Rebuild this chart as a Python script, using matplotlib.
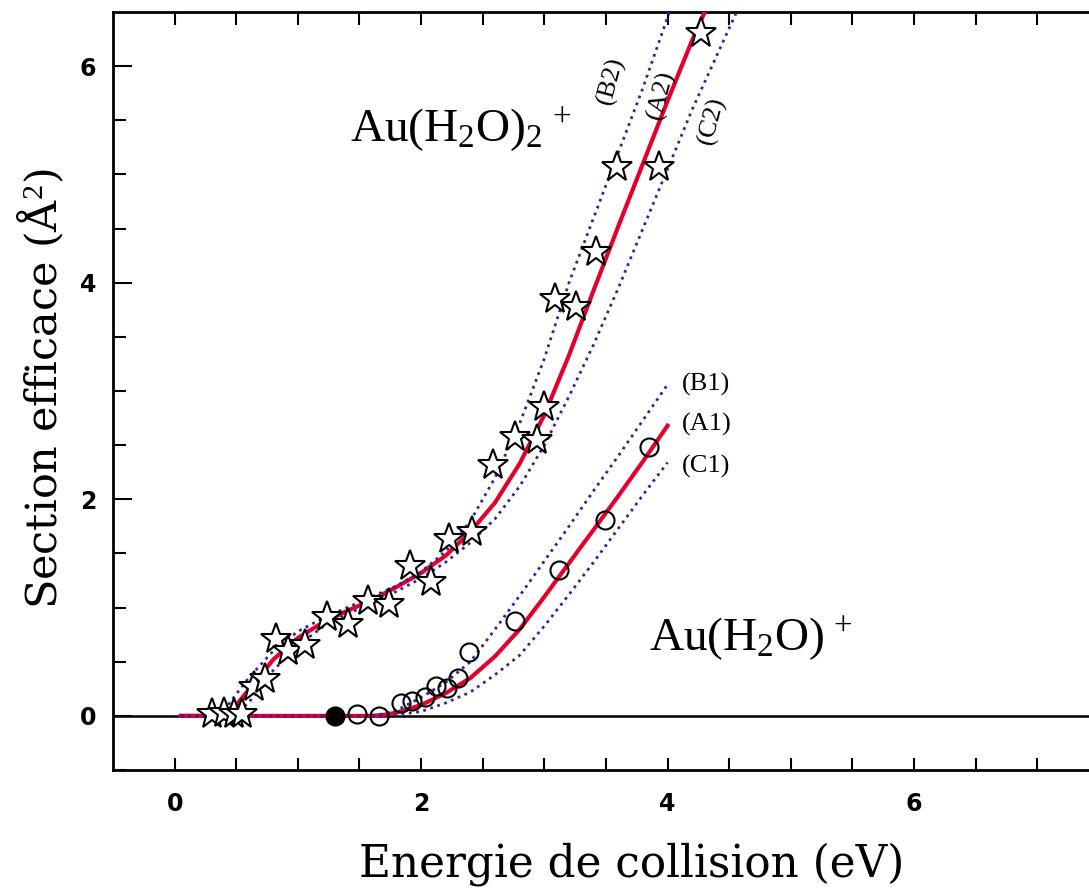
import numpy as np
import matplotlib
matplotlib.use("Agg")
import matplotlib.pyplot as plt

# =========================
# DATA
# =========================
# Au(H2O)2+ measured points (stars)
star_x = [0.30, 0.40, 0.48, 0.55, 0.64, 0.73, 0.82, 0.92, 1.06, 1.24, 1.41, 1.57, 1.74,
          1.91, 2.08, 2.23, 2.41, 2.58, 2.76, 2.94, 3.00, 3.09, 3.26, 3.42, 3.59, 3.93, 4.27]
star_y = [0.02, 0.03, 0.02, 0.02, 0.27, 0.34, 0.71, 0.60, 0.65, 0.91, 0.85, 1.06, 1.03,
          1.38, 1.24, 1.63, 1.70, 2.32, 2.58, 2.55, 2.85, 3.85, 3.78, 4.28, 5.07, 5.07, 6.31]

# Au(H2O)+ measured points (circles), first one filled
fill_x = [1.30]
fill_y = [0.0]
circ_x = [1.48, 1.66, 1.84, 1.93, 2.03, 2.12, 2.21, 2.30, 2.39, 2.76, 3.12, 3.49, 3.85]
circ_y = [0.02, 0.00, 0.12, 0.14, 0.17, 0.28, 0.26, 0.35, 0.59, 0.88, 1.35, 1.81, 2.48]

# fitted curves, Au(H2O)2+
a2_x = [0.05, 0.3, 0.4, 0.5, 0.6, 0.8, 1.0, 1.2, 1.4, 1.6, 1.8, 2.0, 2.2, 2.4, 2.6,
        2.8, 3.0, 3.2, 3.4, 3.6, 3.8, 4.0, 4.2, 4.31]
a2_y = [0.0, 0.0, 0.02, 0.10, 0.24, 0.52, 0.72, 0.86, 0.97, 1.07, 1.19, 1.32, 1.48, 1.70, 1.97,
        2.33, 2.78, 3.33, 3.93, 4.52, 5.10, 5.68, 6.24, 6.52]
b2_x = [0.05, 0.3, 0.4, 0.5, 0.6, 0.8, 1.0, 1.2, 1.4, 1.6, 1.8, 2.0, 2.2, 2.4, 2.6,
        2.8, 3.0, 3.2, 3.4, 3.6, 3.8, 4.0, 4.02]
b2_y = [0.0, 0.0, 0.05, 0.20, 0.35, 0.60, 0.78, 0.90, 1.00, 1.10, 1.20, 1.33, 1.52, 1.80, 2.20,
        2.70, 3.30, 4.00, 4.60, 5.20, 5.80, 6.45, 6.52]
c2_x = [0.05, 0.4, 0.5, 0.6, 0.8, 1.0, 1.2, 1.4, 1.6, 1.8, 2.0, 2.2, 2.4, 2.6,
        2.8, 3.0, 3.2, 3.4, 3.6, 3.8, 4.0, 4.2, 4.4, 4.56]
c2_y = [0.0, 0.0, 0.03, 0.12, 0.42, 0.65, 0.82, 0.94, 1.04, 1.15, 1.27, 1.42, 1.60, 1.82,
        2.12, 2.50, 2.95, 3.43, 3.95, 4.50, 5.05, 5.60, 6.10, 6.50]

# fitted curves, Au(H2O)+
a1_x = [0.05, 1.6, 1.7, 1.8, 2.0, 2.2, 2.4, 2.6, 2.8, 3.0, 3.2, 3.4, 3.6, 3.8, 4.0]
a1_y = [0.0, 0.0, 0.01, 0.03, 0.10, 0.21, 0.35, 0.55, 0.80, 1.10, 1.41, 1.72, 2.03, 2.35, 2.68]
b1_x = [0.05, 1.6, 1.7, 1.8, 2.0, 2.2, 2.4, 2.6, 2.8, 3.0, 3.2, 3.4, 3.6, 3.8, 4.0]
b1_y = [0.0, 0.0, 0.02, 0.05, 0.17, 0.31, 0.50, 0.80, 1.11, 1.43, 1.75, 2.08, 2.40, 2.73, 3.06]
c1_x = [0.05, 1.7, 1.8, 2.0, 2.2, 2.4, 2.6, 2.8, 3.0, 3.2, 3.4, 3.6, 3.8, 4.0]
c1_y = [0.0, 0.0, 0.01, 0.04, 0.12, 0.22, 0.38, 0.56, 0.83, 1.12, 1.42, 1.73, 2.04, 2.34]

RED = "#e4002b"
DOT = "#3f1f96"

# =========================
# FIGURE
# =========================
plt.rcParams["mathtext.fontset"] = "custom"
plt.rcParams["mathtext.rm"] = "Liberation Serif"
plt.rcParams["mathtext.it"] = "Liberation Serif:italic"

fig = plt.figure(figsize=(10.89, 8.90), dpi=100)
ax = fig.add_axes([0.1038, 0.1348, 0.8962, 0.8517])

ax.axhline(0, color="black", lw=1.8, zorder=1)

ax.plot(a2_x, a2_y, "-", color=RED, lw=3, zorder=3)
ax.plot(a1_x, a1_y, "-", color=RED, lw=3, zorder=3)
for xs, ys in [(b2_x, b2_y), (c2_x, c2_y), (b1_x, b1_y), (c1_x, c1_y)]:
    ax.plot(xs, ys, ":", color=DOT, lw=2, zorder=3.5)

ax.plot(star_x, star_y, "*", ms=23, mfc="white", mec="black", mew=1.5, ls="none", zorder=4)
ax.plot(circ_x, circ_y, "o", ms=13, mfc="none", mec="black", mew=1.5, ls="none", zorder=4)
ax.plot(fill_x, fill_y, "o", ms=13, mfc="black", mec="black", mew=1.5, ls="none", zorder=4)

# labels on the curves
serif = "Liberation Serif"
ax.text(4.12, 3.06, "(B1)", fontsize=19, family=serif, va="center")
ax.text(4.12, 2.69, "(A1)", fontsize=19, family=serif, va="center")
ax.text(4.12, 2.30, "(C1)", fontsize=19, family=serif, va="center")
ax.text(3.54, 5.87, "(B2)", fontsize=19, family=serif, rotation=75, ha="center", va="center")
ax.text(3.95, 5.73, "(A2)", fontsize=19, family=serif, rotation=75, ha="center", va="center")
ax.text(4.36, 5.50, "(C2)", fontsize=19, family=serif, rotation=75, ha="center", va="center")

ax.text(1.42, 5.41, r"Au(H$_2$O)$_2$$^{\,+}$", fontsize=34, family=serif, va="center")
ax.text(3.85, 0.71, r"Au(H$_2$O)$^{\,+}$", fontsize=34, family=serif, va="center")

# axes
ax.set_xlim(-0.5, 7.42)
ax.set_ylim(-0.5, 6.5)
ax.spines["right"].set_visible(False)
for s in ["left", "bottom", "top"]:
    ax.spines[s].set_linewidth(2)

ax.set_xticks([0, 2, 4, 6])
ax.set_xticks(np.arange(0, 7.5, 0.5), minor=True)
ax.set_yticks([0, 2, 4, 6])
ax.set_yticks(np.arange(-0.5, 6.5, 0.5), minor=True)
ax.tick_params(which="both", direction="in", top=True, right=False, width=1.5)
ax.tick_params(which="major", length=14, labelsize=17)
ax.tick_params(which="minor", length=9)
ax.tick_params(axis="x", which="major", length=9, pad=16)
ax.tick_params(axis="y", which="major", pad=12)
for lab in ax.get_xticklabels() + ax.get_yticklabels():
    lab.set_fontfamily("DejaVu Sans")
    lab.set_fontweight("semibold")

ax.set_xlabel("Energie de collision (eV)", fontsize=31.5, family="DejaVu Serif")
ax.set_ylabel("Section efficace (Å$^2$)", fontsize=31, family="DejaVu Serif")
ax.xaxis.label.set_va("center")
ax.yaxis.label.set_va("center")
ax.xaxis.set_label_coords(0.531, -0.124)
ax.yaxis.set_label_coords(-0.074, 0.503)

fig.savefig("out.png", dpi=100)
